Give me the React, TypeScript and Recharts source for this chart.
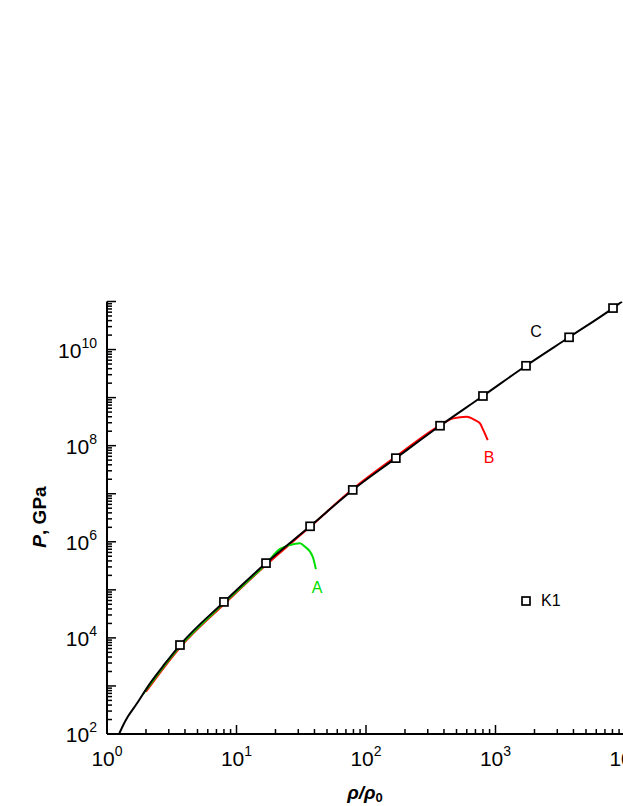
import React from "react";
import { ComposedChart, Line, Scatter, XAxis, YAxis, ReferenceDot } from "recharts";

// curve C (black)
const cX = [1.24, 1.33, 1.45, 1.69, 2.15, 2.8, 3.66, 8.0, 16.9, 37, 79, 170, 373, 800, 1720, 3700, 8080, 9500];
const cY = [100, 150, 230, 420, 1135, 2900, 7100, 5.6e4, 3.6e5, 2.1e6, 1.2e7, 5.5e7, 2.6e8, 1.08e9, 4.6e9, 1.8e10, 7.3e10, 1.0e11];

// curve B (red)
const bX = [2.0, 3.66, 8.0, 16.9, 37, 79, 170, 373, 472, 600, 695, 759, 805, 871];
const bY = [760, 6.3e3, 5.0e4, 3.3e5, 2.05e6, 1.25e7, 5.9e7, 2.65e8, 3.7e8, 4.0e8, 3.4e8, 2.9e8, 2.1e8, 1.3e8];

// curve A (green)
const aX = [1.9, 3.66, 8.0, 16.9, 21.7, 25.9, 30.9, 33.8, 37, 39.2, 41];
const aY = [680, 6.7e3, 5.3e4, 3.5e5, 7.1e5, 8.6e5, 9.3e5, 7.9e5, 6.2e5, 4.5e5, 2.7e5];

// K1 points
const kX = [3.66, 8.0, 16.9, 37, 79, 170, 373, 800, 1720, 3700, 8080];
const kY = [7.1e3, 5.6e4, 3.6e5, 2.1e6, 1.2e7, 5.5e7, 2.6e8, 1.08e9, 4.6e9, 1.8e10, 7.3e10];

// curve labels
const tagNames = ["A", "B", "C"];
const tagX = [41.9, 891, 2055];
const tagY = [1.15e5, 5.8e7, 2.4e10];
const tagColors = ["#00dd00", "#ff0000", "#000000"];

const xDecades = [0, 1, 2, 3, 4];
const yDecades = [2, 3, 4, 5, 6, 7, 8, 9, 10, 11];
const yLabelled = [2, 4, 6, 8, 10];

const FONT = "'Liberation Sans', Arial, sans-serif";

const toPts = (xs: number[], ys: number[]) => xs.map((x, i) => ({ x, y: ys[i] }));
const cData = toPts(cX, cY);
const bData = toPts(bX, bY);
const aData = toPts(aX, aY);
const kData = toPts(kX, kY);

function logTicks(decades: number[]) {
  const out: number[] = [];
  decades.forEach((d, i) => {
    out.push(Math.pow(10, d));
    if (i < decades.length - 1) {
      for (let m = 2; m <= 9; m++) out.push(m * Math.pow(10, d));
    }
  });
  return out;
}
const xTicks = logTicks(xDecades);
const yTicks = logTicks(yDecades);

const isMajor = (v: number) => Math.abs(Math.log10(v) - Math.round(Math.log10(v))) < 1e-6;

function Pow({ x, y, e, anchor }: { x: number; y: number; e: number; anchor: "middle" | "end" }) {
  return (
    <text x={x} y={y} textAnchor={anchor} fontSize={21} fontFamily={FONT} fill="#000">
      <tspan>10</tspan>
      <tspan dy={-10} fontSize={14}>{e}</tspan>
    </text>
  );
}

function BottomTick(props: any) {
  const { x, y, payload } = props;
  const major = isMajor(payload.value);
  return (
    <g>
      <line x1={x} y1={y} x2={x} y2={y - (major ? 9 : 5)} stroke="#000" strokeWidth={1.5} />
      {major && <Pow x={x} y={y + 32} e={Math.round(Math.log10(payload.value))} anchor="middle" />}
    </g>
  );
}

function TopTick(props: any) {
  const { x, y, payload } = props;
  const major = isMajor(payload.value);
  return <line x1={x} y1={y} x2={x} y2={y + (major ? 9 : 5)} stroke="#000" strokeWidth={1.5} />;
}

function LeftTick(props: any) {
  const { x, y, payload } = props;
  const major = isMajor(payload.value);
  const e = Math.round(Math.log10(payload.value));
  return (
    <g>
      <line x1={x} y1={y} x2={x + (major ? 9 : 5)} y2={y} stroke="#000" strokeWidth={1.5} />
      {major && yLabelled.includes(e) && <Pow x={x - 10} y={y + 8} e={e} anchor="end" />}
    </g>
  );
}

function RightTick(props: any) {
  const { x, y, payload } = props;
  const major = isMajor(payload.value);
  return <line x1={x} y1={y} x2={x - (major ? 9 : 5)} y2={y} stroke="#000" strokeWidth={1.5} />;
}

function Square(props: any) {
  const { cx, cy } = props;
  return <rect x={cx - 4} y={cy - 4} width={8} height={8} fill="#fff" stroke="#000" strokeWidth={1.7} />;
}

export default function App() {
  const axisStroke = { stroke: "#000", strokeWidth: 2 };
  return (
    <div style={{ position: "absolute", left: 0, top: 0, width: 623, height: 806, overflow: "hidden", background: "#fff" }}>
      <ComposedChart width={700} height={806} margin={{ top: 301.5, right: 75, bottom: 0, left: 47 }}>
        <XAxis
          xAxisId="b"
          dataKey="x"
          type="number"
          scale="log"
          domain={[1, 10000]}
          allowDataOverflow
          ticks={xTicks}
          interval={0}
          tick={<BottomTick />}
          tickLine={false}
          tickSize={0}
          tickMargin={0}
          axisLine={axisStroke}
          height={72}
        />
        <XAxis
          xAxisId="t"
          orientation="top"
          dataKey="x"
          type="number"
          scale="log"
          domain={[1, 10000]}
          allowDataOverflow
          ticks={xTicks}
          interval={0}
          tick={<TopTick />}
          tickLine={false}
          tickSize={0}
          tickMargin={0}
          axisLine={axisStroke}
          height={0}
        />
        <YAxis
          yAxisId="l"
          dataKey="y"
          type="number"
          scale="log"
          domain={[100, 1e11]}
          allowDataOverflow
          ticks={yTicks}
          interval={0}
          tick={<LeftTick />}
          tickLine={false}
          tickSize={0}
          tickMargin={0}
          axisLine={axisStroke}
          width={60}
        />
        <YAxis
          yAxisId="r"
          orientation="right"
          dataKey="y"
          type="number"
          scale="log"
          domain={[100, 1e11]}
          allowDataOverflow
          ticks={yTicks}
          interval={0}
          tick={<RightTick />}
          tickLine={false}
          tickSize={0}
          tickMargin={0}
          axisLine={axisStroke}
          width={0}
        />
        <Line xAxisId="b" yAxisId="l" data={bData} dataKey="y" type="monotone" dot={false} stroke="#ff0000" strokeWidth={2} isAnimationActive={false} />
        <Line xAxisId="b" yAxisId="l" data={aData} dataKey="y" type="monotone" dot={false} stroke="#00dd00" strokeWidth={2} isAnimationActive={false} />
        <Line xAxisId="b" yAxisId="l" data={cData} dataKey="y" type="monotone" dot={false} stroke="#000" strokeWidth={2} isAnimationActive={false} />
        <Scatter xAxisId="b" yAxisId="l" name="K1" data={kData} dataKey="y" shape={<Square />} isAnimationActive={false} />
        {tagNames.map((t, i) => (
          <ReferenceDot
            key={t}
            xAxisId="b"
            yAxisId="l"
            x={tagX[i]}
            y={tagY[i]}
            r={0}
            stroke="none"
            fill="none"
            label={{ value: t, position: "center", fill: tagColors[i], fontSize: 16, fontFamily: FONT }}
          />
        ))}
      </ComposedChart>
      <div
        style={{
          position: "absolute",
          left: 521,
          top: 592,
          display: "flex",
          alignItems: "center",
          fontFamily: FONT,
          fontSize: 16,
          lineHeight: "18px",
        }}
      >
        <svg width={10} height={10}>
          <rect x={1} y={1} width={8} height={8} fill="#fff" stroke="#000" strokeWidth={1.7} />
        </svg>
        <span style={{ marginLeft: 10 }}>K1</span>
      </div>
      <div
        style={{
          position: "absolute",
          left: 40,
          top: 517,
          transform: "translate(-50%, -50%) rotate(-90deg)",
          whiteSpace: "nowrap",
          fontFamily: FONT,
          fontWeight: "bold",
          fontSize: 19,
        }}
      >
        <i>P</i>, GPa
      </div>
      <div
        style={{
          position: "absolute",
          left: 365,
          top: 795,
          transform: "translate(-50%, -50%)",
          whiteSpace: "nowrap",
          fontFamily: FONT,
          fontWeight: "bold",
          fontSize: 19,
          lineHeight: "20px",
        }}
      >
        <i>ρ/ρ</i>
        <span style={{ fontSize: 13, verticalAlign: "-3px" }}>0</span>
      </div>
    </div>
  );
}
